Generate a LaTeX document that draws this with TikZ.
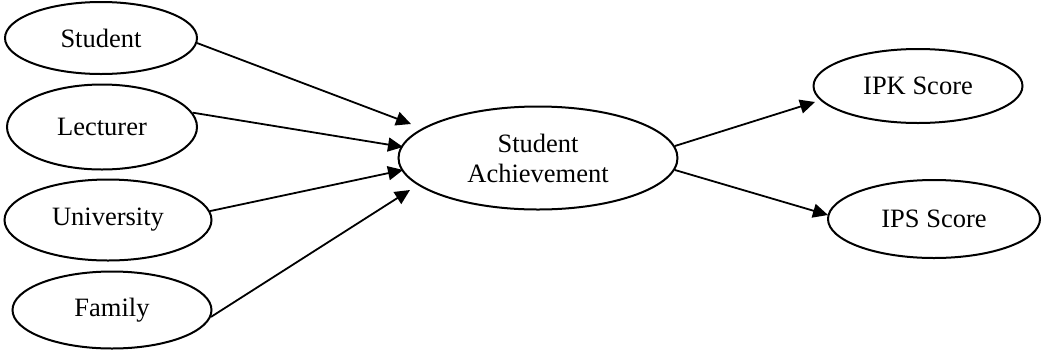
\documentclass[tikz,border=0pt]{standalone}
\usepackage{fontspec}
\setmainfont{Liberation Serif}
\usetikzlibrary{shapes.geometric,arrows.meta}
\tikzset{
  oval/.style={ellipse, draw, line width=1pt, inner sep=0pt, align=center,
    font=\fontsize{13.25}{15}\selectfont},
  arr/.style={line width=0.9pt, -{Triangle[length=7.5pt,width=7pt]}}
}
\begin{document}
\begin{tikzpicture}[x=0.5pt,y=-0.5pt]
\useasboundingbox (0,0) rectangle (1043,349);
\node[oval, minimum width=96pt, minimum height=36pt] (s) at (101,38) {Student};
\node[oval, minimum width=95pt, minimum height=42.5pt] (l) at (102,127) {Lecturer};
\node[oval, minimum width=103.5pt, minimum height=40.5pt] (u) at (108,220) {University};
\node[oval, minimum width=99.5pt, minimum height=38.5pt] (f) at (112,310) {Family};
\node[oval, minimum width=139.5pt, minimum height=51.5pt] (c) at (538,158) {Student\\Achievement};
\node[oval, minimum width=104.5pt, minimum height=37pt] (k) at (918,86) {IPK Score};
\node[oval, minimum width=106pt, minimum height=39pt] (p) at (934,219) {IPS Score};
\coordinate (t1) at (411,124);
\coordinate (t2) at (403,147);
\coordinate (t3) at (403,170);
\coordinate (t4) at (410,190);
\coordinate (t5) at (815,102);
\coordinate (t6) at (828,215);
\draw[arr] (s.-3) -- (t1);
\draw[arr] (l.9) -- (t2);
\draw[arr] (u.5) -- (t3);
\draw[arr] (f.-4) -- (t4);
\draw[arr] (c.5) -- (t5);
\draw[arr] (c.-5) -- (t6);
\end{tikzpicture}
\end{document}
